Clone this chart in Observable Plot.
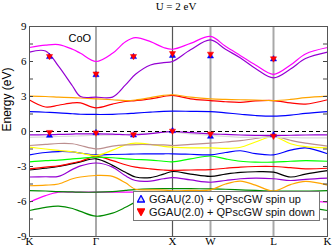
<!DOCTYPE html>
<html><head><meta charset="utf-8">
<script src="https://cdn.jsdelivr.net/npm/d3@7"></script>
<script src="https://cdn.jsdelivr.net/npm/@observablehq/plot@0.6"></script>
<style>
body{margin:0;background:#fff;}
#wrap{position:relative;width:332px;height:248px;overflow:hidden;}
#title{height:18px;line-height:13px;text-align:center;font:11px "Liberation Serif",serif;padding-left:20px;box-sizing:border-box;}
#legend{position:absolute;left:133px;top:191px;width:187px;height:30px;border:1px solid #777;background:#fff;box-sizing:border-box;font:11px "Liberation Sans",Arial,sans-serif;color:#111;}
#legend .row{position:absolute;left:3px;height:13px;line-height:13px;white-space:nowrap;}
#legend svg{vertical-align:middle;margin-right:4px;position:relative;top:-1px;}
</style></head>
<body>
<div id="wrap">
<div id="title"></div>
<div id="chart"></div>
<div id="legend"></div>
</div>
<script>
const titleText = "U = 2 eV";
const yLabel = "Energy (eV)";
const kTicks = [0, 66.5, 143, 181, 244, 298];
const kLabels = ["K", "Γ", "X", "W", "L", "K"];
const yTicks = [-9, -6, -3, 0, 3, 6, 9];
const yMinorTicks = [-7.5, -6, -4.5, -3, -1.5, 0, 1.5, 3, 4.5, 6, 7.5];
const annText = ["CoO"];
const annK = [39];
const annE = [8.0];
const legendLabels = ["GGAU(2.0) + QPscGW spin up", "GGAU(2.0) + QPscGW spin down"];

// k-path sample points (path units)
const kGrid = [0, 16, 29, 43, 51, 66.5, 83, 96, 106, 121, 134, 143, 161, 181, 196, 211, 226, 244, 261, 276, 298];

// band energies (eV) at kGrid
const mTop = [7.2, 7.4, 7.45, 7.05, 6.7, 6.0, 6.7, 7.7, 8.05, 7.7, 7.2, 7.05, 7.55, 8.15, 7.3, 6.5, 5.7, 4.9, 5.7, 6.65, 7.2];
const pTop = [6.8, 6.9, 5.6, 3.9, 3.0, 2.95, 2.95, 4.0, 4.9, 5.7, 5.9, 6.0, 7.0, 7.85, 7.05, 6.3, 5.4, 4.6, 5.35, 6.25, 6.8];
const oUp = [3.03, 3.0, 2.95, 2.9, 2.87, 2.8, 2.72, 2.65, 2.7, 2.9, 3.1, 3.15, 2.95, 2.8, 2.75, 2.72, 2.7, 2.65, 2.75, 2.9, 3.03];
const rUp = [2.7, 2.1, 2.25, 2.45, 2.45, 2.03, 2.35, 2.57, 2.65, 2.8, 3.0, 3.1, 2.8, 2.65, 2.55, 2.5, 2.62, 2.65, 2.45, 2.35, 2.72];
const bUp = [1.71, 1.65, 1.6, 1.52, 1.48, 1.46, 1.47, 1.52, 1.58, 1.66, 1.72, 1.74, 1.73, 1.71, 1.6, 1.48, 1.37, 1.31, 1.4, 1.55, 1.71];
const g0 = [-0.5, -0.47, -0.43, -0.4, -0.37, -0.33, -0.3, -0.25, -0.2, -0.14, -0.08, -0.05, -0.2, -0.33, -0.42, -0.5, -0.5, -0.5, -0.52, -0.55, -0.55];
const p0 = [-0.29, -0.28, -0.25, -0.22, -0.2, -0.2, -0.22, -0.28, -0.28, -0.18, -0.05, 0.0, -0.1, -0.2, -0.25, -0.3, -0.33, -0.34, -0.32, -0.3, -0.29];
const br = [-1.2, -1.1, -1.03, -1.05, -1.2, -1.49, -1.25, -1.15, -1.12, -1.12, -1.15, -1.2, -1.1, -1.0, -0.9, -0.78, -0.6, -0.42, -0.75, -1.0, -1.26];
const yel = [-1.34, -1.5, -1.62, -1.75, -1.85, -2.06, -1.6, -1.15, -1.0, -1.1, -1.27, -1.34, -1.4, -1.4, -1.45, -1.35, -0.9, -0.45, -1.05, -1.3, -1.4];
const bLo = [-2.0, -1.8, -1.72, -1.75, -1.85, -2.0, -1.97, -1.95, -1.93, -1.92, -1.91, -1.91, -1.95, -2.0, -1.8, -1.65, -1.9, -2.0, -1.6, -1.4, -1.91];
const gUp = [-2.6, -2.5, -2.45, -2.35, -2.3, -2.2, -2.25, -2.35, -2.4, -2.45, -2.55, -2.6, -2.35, -2.1, -2.35, -2.55, -2.62, -2.63, -2.55, -2.5, -2.55];
const rLo = [-3.2, -3.05, -2.95, -2.7, -2.55, -2.14, -2.5, -2.85, -3.05, -3.2, -3.3, -3.34, -3.3, -3.26, -3.15, -3.05, -3.0, -3.0, -3.1, -3.2, -3.15];
const blk = [-3.3, -3.15, -3.0, -2.75, -2.6, -2.34, -2.9, -3.5, -3.9, -3.95, -3.65, -3.43, -3.65, -3.85, -3.65, -3.5, -3.45, -3.49, -3.9, -3.65, -3.35];
const pLo = [-3.9, -3.88, -3.85, -3.25, -2.95, -2.7, -3.05, -3.8, -4.2, -4.25, -4.05, -3.95, -4.15, -4.35, -4.2, -4.05, -4.0, -4.05, -4.2, -4.1, -4.0];
const oLo = [-4.65, -4.6, -4.5, -4.05, -3.9, -3.77, -3.85, -4.4, -4.95, -5.0, -5.02, -5.08, -5.05, -5.0, -4.5, -4.25, -4.6, -5.1, -4.55, -4.28, -4.6];
const gMid = [-5.06, -5.1, -5.15, -5.18, -5.2, -5.2, -5.15, -5.05, -4.98, -4.92, -4.9, -4.9, -4.9, -4.92, -4.95, -5.0, -5.05, -5.1, -5.1, -5.1, -5.06];
const mLo = [-6.06, -5.5, -5.2, -5.2, -5.2, -5.2, -5.2, -5.2, -5.2, -5.25, -5.3, -5.3, -5.35, -5.4, -5.5, -5.6, -5.7, -5.75, -5.85, -5.95, -6.06];
const gLo = [-6.77, -6.5, -6.4, -6.6, -6.85, -7.26, -7.0, -6.5, -6.05, -5.8, -5.7, -5.65, -5.7, -5.8, -5.9, -6.0, -6.1, -6.2, -6.35, -6.5, -6.77];

// QPscGW markers
const markK = [20, 66.5, 104, 143, 181, 244];
const upHi = [6.4, 4.85, 6.4, 6.5, 6.45, 6.2];
const downHi = [6.45, 4.95, 6.45, 6.7, 6.65, 6.25];
const upLo = [-0.35, -0.12, -0.32, 0.05, -0.43, -0.3];
const downLo = [-0.06, -0.1, -0.25, 0.05, -0.2, -0.38];

document.getElementById("title").textContent = titleText;

const bandList = [
  [gLo, "#008b00"], [mLo, "#ff00ff"], [gMid, "#008b00"], [oLo, "#ffa500"],
  [pLo, "#9400d3"], [blk, "#000000"], [rLo, "#ff0000"], [gUp, "#00ff00"],
  [bLo, "#0000ff"], [yel, "#ffff00"], [br, "#bc8f8f"], [g0, "#dcdcdc"],
  [p0, "#9400d3"], [bUp, "#0000ff"], [rUp, "#ff0000"], [oUp, "#ffa500"],
  [pTop, "#9400d3"], [mTop, "#ff00ff"]
];
const bandMarks = bandList.map(([vals, color]) =>
  Plot.line(kGrid.map((k, i) => ({k, E: vals[i]})), {x: "k", y: "E", stroke: color, strokeWidth: 1.2, curve: "catmull-rom"})
);
const pts = (ks, es) => ks.map((k, i) => ({k, E: es[i]}));
const upPts = pts(markK, upHi).concat(pts(markK, upLo));
const downPts = pts(markK, downHi).concat(pts(markK, downLo));
const xPos = kTicks[2];
const grayLines = kTicks.filter((d, i) => i > 0 && i < kTicks.length - 1 && i !== 2);

const chart = Plot.plot({
  width: 332, height: 230,
  marginLeft: 29, marginRight: 5, marginTop: 8, marginBottom: 12,
  style: {fontFamily: "Liberation Serif", fontSize: "11px", background: "white"},
  x: {domain: [0, 298]},
  y: {domain: [-9, 9]},
  marks: [
    Plot.ruleX(grayLines, {stroke: "#a8a8a8", strokeWidth: 2}),
    Plot.ruleX([xPos], {stroke: "#555", strokeWidth: 1.2}),
    ...bandMarks,
    Plot.ruleY([0], {stroke: "black", strokeWidth: 1, strokeDasharray: "4,3"}),
    Plot.dot(upPts, {x: "k", y: "E", symbol: "triangle", r: 2.3, fill: "blue", stroke: "blue", strokeWidth: 0.5}),
    Plot.dot(downPts, {x: "k", y: "E", symbol: "triangle", rotate: 180, r: 2.3, fill: "red", stroke: "red", strokeWidth: 0.5}),
    Plot.tickY(yMinorTicks, {stroke: "#444", insetRight: 294}),
    Plot.tickY(yMinorTicks, {stroke: "#444", insetLeft: 294}),
    Plot.frame({stroke: "#555"}),
    Plot.axisX({ticks: kTicks, tickSize: 0, tickPadding: 1, tickFormat: d => kLabels[kTicks.indexOf(d)], label: null}),
    Plot.axisY({ticks: yTicks, tickSize: 0, tickPadding: 3, tickFormat: d => String(d), label: null}),
    Plot.text([yLabel], {frameAnchor: "left", dx: -22.5, rotate: -90, text: d => d, fontFamily: "Liberation Sans", fontSize: 12, lineAnchor: "middle"}),
    Plot.text(annText, {x: annK, y: annE, text: d => d, textAnchor: "start", lineAnchor: "middle", fontFamily: "Liberation Sans", fontSize: 11})
  ]
});
document.getElementById("chart").appendChild(chart);

// legend
const sym = (color, down) => `<svg width="8" height="8" viewBox="0 0 8 8"><polygon points="${down ? "0.5,1 7.5,1 4,7.5" : "0.5,7 7.5,7 4,0.5"}" fill="${down ? color : "#dde"}" stroke="${color}" stroke-width="1.3"/></svg>`;
const lg = document.getElementById("legend");
lg.innerHTML = `<div class="row" style="top:1px">${sym("blue", false)}${legendLabels[0]}</div>` +
               `<div class="row" style="top:14px">${sym("red", true)}${legendLabels[1]}</div>`;
</script>
</body></html>
